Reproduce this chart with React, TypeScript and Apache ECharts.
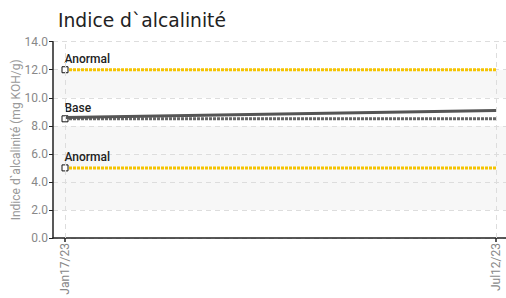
import React, { useEffect, useRef } from "react";
import * as echarts from "echarts";

const title = "Indice d`alcalinité";
const yAxisName = "Indice d`alcalinité (mg KOH/g)";
const startDate = "2023-01-17";
const endDate = "2023-07-12";
const dateLabels = ["Jan17/23", "Jul12/23"];
const measuredDates = ["2023-01-17", "2023-07-12"];
const measuredValues = [8.6, 9.1];
const baseValue = 8.5;
const upperAnormal = 12;
const lowerAnormal = 5;
const yTicks = [0, 2, 4, 6, 8, 10, 12, 14];

const DAY = 86400000;
const toDay = (d: string) =>
  Math.round((new Date(d + "T00:00:00Z").getTime() - new Date(startDate + "T00:00:00Z").getTime()) / DAY);

export default function App() {
  const ref = useRef<HTMLDivElement>(null);
  useEffect(() => {
    if (!ref.current) return;
    const chart = echarts.init(ref.current, null, { renderer: "svg" });
    const endDay = toDay(endDate);
    const span = endDay;
    const plotW = 431;
    const xMin = -(12 / plotW) * span;
    const xMax = endDay + (10 / plotW) * span;
    const labelFont = "Roboto";

    const thresholdSeries = (name: string, value: number, color: string, label: string) => ({
      name,
      type: "line",
      symbol: "none",
      silent: true,
      lineStyle: { color, width: 3, type: [3, 1] },
      data: [
        {
          value: [0, value],
          symbol: "rect",
          symbolSize: 6,
          itemStyle: { color: "#fff", borderColor: "#111", borderWidth: 1 },
          label: {
            show: true,
            formatter: label,
            position: [3, -1],
            align: "left",
            verticalAlign: "bottom",
            fontFamily: labelFont,
            fontSize: 12,
            fontWeight: 500,
            color: "#222",
          },
        },
        [endDay, value],
      ],
      z: 3,
    });

    chart.setOption({
      animation: false,
      title: {
        text: title,
        left: 58,
        top: 11,
        padding: 0,
        textStyle: { fontFamily: "DejaVu Sans", fontSize: 18.7, fontWeight: "normal", color: "#222" },
      },
      grid: { left: 53, right: 0, top: 41.7, bottom: 60, outerBoundsMode: "none", containLabel: false },
      xAxis: {
        type: "value",
        min: xMin,
        max: xMax,
        axisLine: { show: true, onZero: false, lineStyle: { color: "#222", width: 1.5 } },
        axisTick: { show: true, customValues: [0, endDay], length: 4, lineStyle: { color: "#222", width: 1.5 } },
        axisLabel: {
          customValues: [0, endDay],
          rotate: 90,
          formatter: (v: number) => (v === 0 ? dateLabels[0] : dateLabels[1]),
          fontFamily: labelFont,
          fontSize: 12,
          color: "#888",
          margin: 5,
        },
        splitLine: { show: false },
      },
      yAxis: {
        type: "value",
        min: yTicks[0],
        max: yTicks[yTicks.length - 1],
        interval: 2,
        name: yAxisName,
        nameLocation: "middle",
        nameGap: 31,
        nameMoveOverlap: false,
        nameTextStyle: { fontFamily: labelFont, fontSize: 12, color: "#999" },
        axisLine: { show: true, onZero: false, lineStyle: { color: "#222", width: 1.5 } },
        axisTick: { show: true, length: 4, lineStyle: { color: "#222" } },
        axisLabel: {
          formatter: (v: number) => v.toFixed(1),
          fontFamily: labelFont,
          fontSize: 12,
          color: "#888",
          margin: 5,
        },
        splitLine: { show: true, lineStyle: { color: "#ddd", type: [5, 4] } },
        splitArea: {
          show: true,
          areaStyle: { color: ["#ffffff", "#f7f7f7", "#f7f7f7", "#f7f7f7", "#ffffff", "#f7f7f7", "#ffffff"] },
        },
      },
      series: [
        thresholdSeries("Anormal haut", upperAnormal, "#f5c400", "Anormal"),
        thresholdSeries("Anormal bas", lowerAnormal, "#f5c400", "Anormal"),
        thresholdSeries("Base", baseValue, "#666", "Base"),
        {
          name: "Mesure",
          type: "line",
          symbol: "none",
          silent: true,
          lineStyle: { color: "#555", width: 3 },
          data: measuredDates.map((d, i) => [toDay(d), measuredValues[i]]),
          markLine: {
            silent: true,
            symbol: "none",
            label: { show: false },
            lineStyle: { color: "#ddd", type: [5, 4], width: 1 },
            data: [{ xAxis: 0 }, { xAxis: endDay }],
          },
          z: 4,
        },
      ],
    });
    return () => chart.dispose();
  }, []);
  return (
    <div
      ref={ref}
      style={{ position: "absolute", left: 0, top: 0, width: 506, height: 298 }}
    />
  );
}
